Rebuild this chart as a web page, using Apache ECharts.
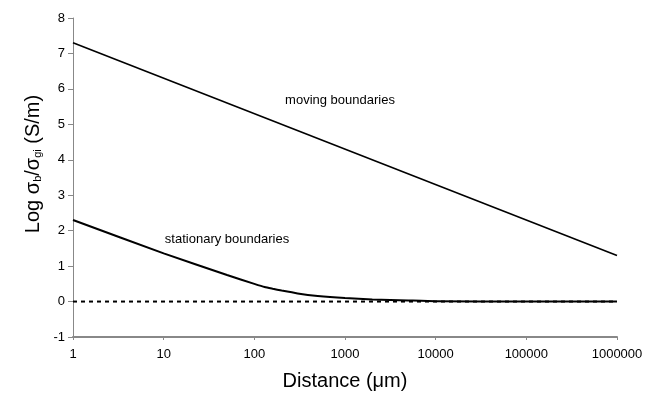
<!DOCTYPE html>
<html>
<head>
<meta charset="utf-8">
<script src="https://cdn.jsdelivr.net/npm/echarts@6/dist/echarts.min.js"></script>
<style>html,body{margin:0;padding:0;background:#fff}#c{width:654px;height:395px}</style>
</head>
<body>
<div id="c"></div>
<script>
var xTicks = [1, 10, 100, 1000, 10000, 100000, 1000000];
var movingX = [1, 1000000];
var movingY = [7.3, 1.3];
var stationaryX = [1, 10, 50, 100, 130, 160, 200, 300, 500, 1000, 2000, 5000, 10000, 100000, 1000000];
var stationaryY = [2.3, 1.36, 0.75, 0.5, 0.41, 0.36, 0.31, 0.23, 0.16, 0.1, 0.06, 0.03, 0.01, 0.0, 0.0];
var zeroX = [1, 1000000];
var zeroY = [0, 0];

function pairs(xs, ys) { return xs.map(function (x, i) { return [x, ys[i]]; }); }

var font = 'Liberation Sans, Arial, sans-serif';
var chart = echarts.init(document.getElementById('c'));
chart.setOption({
  animation: false,
  grid: { left: 73, right: 37, top: 18, bottom: 58 },
  xAxis: {
    type: 'log', logBase: 10, min: 1, max: 1000000,
    axisLine: { onZero: false, lineStyle: { color: '#888', width: 2 } },
    axisTick: { show: true, length: 3, lineStyle: { color: '#888' } },
    minorTick: { show: false },
    splitLine: { show: false },
    axisLabel: { color: '#000', fontSize: 13, fontFamily: font, margin: 11,
      formatter: function (v) { return String(Math.round(v)); } }
  },
  yAxis: {
    type: 'value', min: -1, max: 8, interval: 1,
    axisLine: { show: true, lineStyle: { color: '#888', width: 1 } },
    axisTick: { show: true, length: 5, lineStyle: { color: '#888' } },
    splitLine: { show: false },
    axisLabel: { color: '#000', fontSize: 13, fontFamily: font, margin: 8 }
  },
  series: [
    { type: 'line', data: pairs(movingX, movingY), symbol: 'none',
      lineStyle: { color: '#000', width: 1.6 } },
    { type: 'line', data: pairs(stationaryX, stationaryY), symbol: 'none', smooth: 0.2,
      lineStyle: { color: '#000', width: 2 } },
    { type: 'line', data: pairs(zeroX, zeroY), symbol: 'none',
      lineStyle: { color: '#000', width: 2, type: [4, 4] } }
  ],
  graphic: [
    { type: 'text', x: 340, y: 100, style: { text: 'moving boundaries', font: '13px ' + font, fill: '#000', align: 'center', verticalAlign: 'middle' } },
    { type: 'text', x: 227, y: 239, style: { text: 'stationary boundaries', font: '13px ' + font, fill: '#000', align: 'center', verticalAlign: 'middle' } },
    { type: 'text', x: 345, y: 381, style: { text: 'Distance (\u03bcm)', font: '20px ' + font, fill: '#000', align: 'center', verticalAlign: 'middle' } },
    { type: 'text', x: 31, y: 164, rotation: Math.PI / 2,
      style: {
        text: '{a|Log \u03c3}{s|b}{a|/\u03c3}{s|gi}{a| (S/m)}',
        align: 'center', verticalAlign: 'middle',
        rich: {
          a: { fontSize: 20, fontFamily: font, fill: '#000', verticalAlign: 'bottom', lineHeight: 24 },
          s: { fontSize: 11, fontFamily: font, fill: '#000', verticalAlign: 'bottom', lineHeight: 18, padding: [0, 0, 0, 0] }
        }
      } }
  ]
});
</script>
</body>
</html>
